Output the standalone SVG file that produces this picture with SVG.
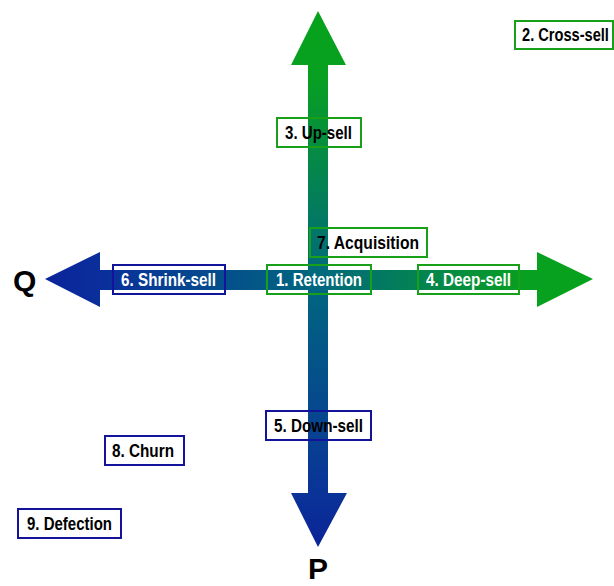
<svg xmlns="http://www.w3.org/2000/svg" width="614" height="586" viewBox="0 0 614 586">
<defs>
<linearGradient id="gv" gradientUnits="userSpaceOnUse" x1="0" y1="11" x2="0" y2="547">
<stop offset="0" stop-color="#06A21C"/>
<stop offset="0.12" stop-color="#08A020"/>
<stop offset="0.5" stop-color="#00687E"/>
<stop offset="0.9" stop-color="#0A3398"/>
<stop offset="1" stop-color="#0A2496"/>
</linearGradient>
<linearGradient id="gh" gradientUnits="userSpaceOnUse" x1="45" y1="0" x2="593" y2="0">
<stop offset="0" stop-color="#0A249A"/>
<stop offset="0.1" stop-color="#0A2E9C"/>
<stop offset="0.5" stop-color="#00687E"/>
<stop offset="0.88" stop-color="#08A020"/>
<stop offset="1" stop-color="#06A21C"/>
</linearGradient>
</defs>
<style>
.t{font-family:"Liberation Sans",Arial,sans-serif;font-weight:bold;font-size:19px;}
.k{fill:#000;}
.w{fill:#fff;}
.g{fill:none;stroke:#18A018;stroke-width:2;}
.b{fill:none;stroke:#12129A;stroke-width:2;}
.ax{font-family:"Liberation Sans",Arial,sans-serif;font-weight:bold;font-size:30px;fill:#000;}
</style>
<g id="connectors">
<polygon id="h-arrow" fill="url(#gh)" points="45,279 100,252 100,270 537,270 537,252 593,279 537,307 537,290 100,290 100,307"/>
<polygon id="v-arrow" fill="url(#gv)" points="318,11 346,65 328,65 328,493 347,493 318,547 291,493 308,493 308,65 291,65"/>
</g>
<g id="axis-q"><text class="ax" x="13" y="291">Q</text></g>
<g id="axis-p"><text class="ax" x="308" y="579">P</text></g>
<g id="n2"><rect class="g" x="515" y="21" width="98" height="28"/><text class="t k" transform="translate(522,41) scale(0.77,1)">2. Cross-sell</text></g>
<g id="n3"><rect class="g" x="277" y="118" width="84" height="29"/><text class="t k" x="285" y="139" textLength="67" lengthAdjust="spacingAndGlyphs">3. Up-sell</text></g>
<g id="n7"><rect class="g" x="310" y="228" width="117" height="29"/><text class="t k" x="317" y="249" textLength="102" lengthAdjust="spacingAndGlyphs">7. Acquisition</text></g>
<g id="n6"><rect class="b" x="113" y="265" width="112" height="29"/><text class="t w" x="121" y="286" textLength="95" lengthAdjust="spacingAndGlyphs">6. Shrink-sell</text></g>
<g id="n1"><rect class="g" x="267" y="265" width="104" height="29"/><text class="t w" x="276" y="286" textLength="86" lengthAdjust="spacingAndGlyphs">1. Retention</text></g>
<g id="n4"><rect class="g" x="418" y="265" width="101" height="29"/><text class="t w" x="426" y="286" textLength="85" lengthAdjust="spacingAndGlyphs">4. Deep-sell</text></g>
<g id="n5"><rect class="b" x="266" y="411" width="105" height="29"/><text class="t k" x="274" y="432" textLength="89" lengthAdjust="spacingAndGlyphs">5. Down-sell</text></g>
<g id="n8"><rect class="b" x="105" y="436" width="79" height="29"/><text class="t k" x="112" y="457" textLength="62" lengthAdjust="spacingAndGlyphs">8. Churn</text></g>
<g id="n9"><rect class="b" x="18" y="509" width="103" height="29"/><text class="t k" x="27" y="530" textLength="85" lengthAdjust="spacingAndGlyphs">9. Defection</text></g>
</svg>
